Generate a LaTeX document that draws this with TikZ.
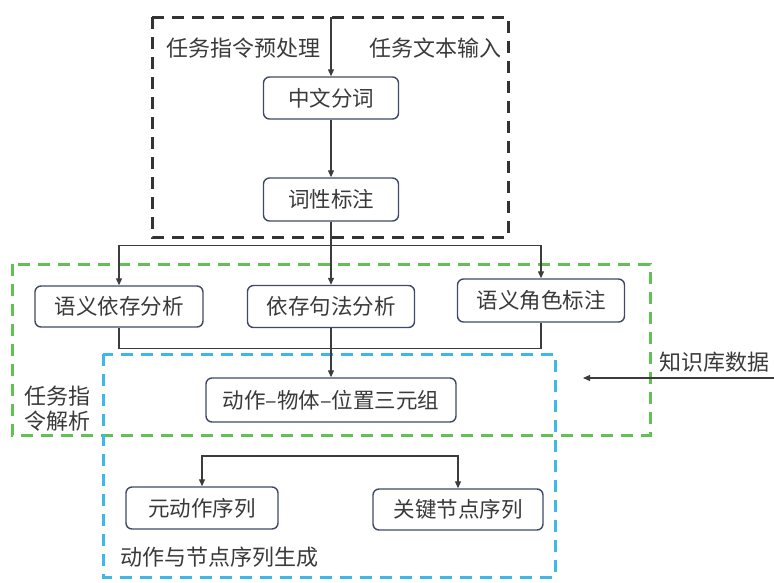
\documentclass[tikz,border=0pt]{standalone}
\usepackage{fontspec}
\setmainfont{Noto Sans CJK SC}
\usetikzlibrary{arrows.meta}
\definecolor{txt}{HTML}{3A3A3A}
\definecolor{boxline}{HTML}{3E4A66}
\definecolor{conn}{HTML}{3C3C3C}
\definecolor{dkdash}{HTML}{333333}
\definecolor{grdash}{HTML}{62C153}
\definecolor{bldash}{HTML}{3DB8E8}
\tikzset{
  stepbox/.style={draw=boxline, line width=1.4pt, rounded corners=6pt, fill=white,
    text=txt, font=\fontsize{21.5}{23}\selectfont, inner sep=0pt},
  lbl/.style={text=txt, font=\fontsize{22}{25}\selectfont, inner sep=0pt},
  arr/.style={draw=conn, line width=1.2pt, -{Triangle[length=7pt,width=6pt]}},
  ln/.style={draw=conn, line width=1.2pt},
  dashbox/.style={line width=3pt, dash pattern=on 12pt off 8pt},
}
\begin{document}
\begin{tikzpicture}[x=1pt,y=-1pt]
\useasboundingbox (0,0) rectangle (774,582);
% dashed frames
\draw[dashbox, draw=dkdash] (152,17) rectangle (508,237);
\draw[dashbox, draw=grdash] (12,264) rectangle (650,435);
\draw[dashbox, draw=bldash] (103,354) rectangle (555,577);
% nodes
\node[stepbox, minimum width=135pt, minimum height=42pt] (fen) at (331,98) {中文分词};
\node[stepbox, minimum width=135pt, minimum height=43pt] (cx) at (331,199.5) {词性标注};
\node[stepbox, minimum width=168pt, minimum height=41pt] (yyyc) at (119,306.5) {语义依存分析};
\node[stepbox, minimum width=167pt, minimum height=42pt] (yczf) at (331,306.5) {依存句法分析};
\node[stepbox, minimum width=167pt, minimum height=43pt] (yyjs) at (541,300.5) {语义角色标注};
\node[stepbox, minimum width=250pt, minimum height=44pt] (dzwt) at (331,400) {动作–物体–位置三元组};
\node[stepbox, minimum width=152pt, minimum height=42pt] (yuan) at (202,508) {元动作序列};
\node[stepbox, minimum width=170pt, minimum height=41pt] (gj) at (458,509.5) {关键节点序列};
% labels
\node[lbl] (l1) at (243,48) {任务指令预处理};
\node[lbl] (l2) at (435,48) {任务文本输入};
\node[lbl, align=left] (l3) at (57,409) {任务指\\令解析};
\node[lbl] (l4) at (219,557) {动作与节点序列生成};
\node[lbl] (kb) at (714,362) {知识库数据};
% coordinates
\coordinate (in) at (331,17);
\coordinate (kr) at (774,378);
\coordinate (kl) at (583,378);
\coordinate (split) at (331,456);
% connectors
\draw[arr] (in) -- (fen.north);
\draw[arr] (fen.south) -- (cx.north);
\draw[arr] (cx.south) -- ++(0,24) -| (yyyc.north);
\draw[arr] (cx.south) -- ++(0,24) -| (yyjs.north);
\draw[arr] (cx.south) -- (yczf.north);
\draw[ln] (yyyc.south) -- ++(0,20.5) -| (yyjs.south);
\draw[arr] (yczf.south) -- (dzwt.north);
\draw[arr] (kr) -- (kl);
\draw[arr] (split) -| (yuan.north);
\draw[arr] (split) -| (gj.north);
\end{tikzpicture}
\end{document}
